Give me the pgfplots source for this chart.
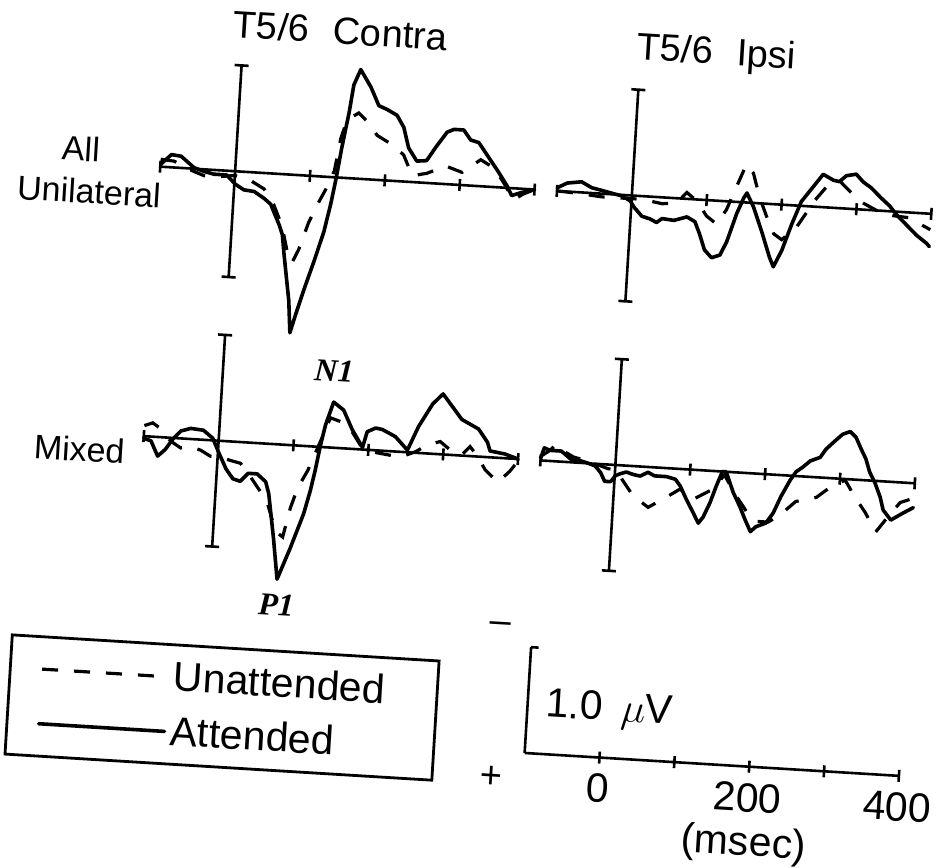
\documentclass[border=0pt]{standalone}
\usepackage{pgfplots}
\pgfplotsset{compat=1.18}
\usepackage{fontspec}
\setmainfont{Liberation Sans}
\newfontfamily\seriffont{Liberation Serif}
\newcommand\fs[1]{\fontsize{#1}{#1}\selectfont}

\pgfplotsset{
  panel/.style={scale only axis, width=187.5pt, height=159pt,
    xmin=-100, xmax=400, ymin=-1.3, ymax=1.7, y dir=reverse,
    hide axis, clip=false, anchor=north west},
  att/.style={black, line width=1.8pt, line join=round, line cap=round},
  unatt/.style={black, line width=1.6pt, dash pattern=on 8pt off 8pt},
  refline/.style={black, line width=1.3pt, forget plot},
}
\newcommand\panelframe{%
  \addplot[refline] coordinates {(-100,0) (400,0)};
  \addplot[refline] coordinates {(0,-1) (0,1)};
  \addplot[refline, only marks, mark=-, mark size=3.5pt] coordinates {(0,-1) (0,1)};
  \addplot[refline, only marks, mark=|, mark size=3pt] coordinates {(-100,0) (100,0) (200,0) (300,0) (400,0)};
}

\begin{document}
\begin{tikzpicture}
\useasboundingbox (0pt,0pt) rectangle (469pt,434pt);
\begin{scope}[transform canvas={rotate around={-3.5:(234.5pt,217pt)}}]

% ---------- All Unilateral, contralateral ----------
\begin{axis}[panel, at={(72.25pt,409.9pt)}]
\panelframe
\addplot[unatt] table {
t v
-100 -0.07
-82 -0.06
-61 0.01
-41 0.06
-21 0.06
0 0.04
19 0.07
40 0.15
54 0.29
67 0.49
77 0.76
83 0.83
91 0.70
102 0.44
114 0.24
124 0.09
132 -0.06
138 -0.37
145 -0.55
160 -0.62
174 -0.53
186 -0.42
207 -0.34
223 -0.25
236 -0.06
255 -0.09
280 -0.17
302 -0.12
326 -0.25
344 -0.18
358 -0.05
373 0.11
385 0.05
400 0.00
};
\addplot[att] table {
t v
-100 -0.02
-86 -0.12
-73 -0.11
-55 -0.01
-41 0.02
-28 0.04
-11 0.04
1 0.12
13 0.17
27 0.18
41 0.24
50 0.29
63 0.48
68 0.57
72 0.76
82 1.19
86 1.49
92 1.32
101 1.08
112 0.81
123 0.52
130 0.25
135 0.01
140 -0.28
147 -0.62
151 -0.88
159 -1.03
174 -0.87
186 -0.70
197 -0.67
211 -0.62
221 -0.51
229 -0.32
241 -0.20
254 -0.21
265 -0.34
279 -0.49
288 -0.52
301 -0.52
311 -0.43
322 -0.41
336 -0.28
351 -0.14
363 -0.02
370 0.07
381 0.04
400 0.00
};
\node[font=\fs{19}] at (axis cs:128.7,-1.387) {T5/6\hspace{12pt}Contra};
\node[font=\fs{17}] at (axis cs:-207,-0.123) {All};
\node[font=\fs{17}] at (axis cs:-192.7,0.274) {Unilateral};
\end{axis}

% ---------- All Unilateral, ipsilateral ----------
\begin{axis}[panel, at={(271pt,409.9pt)}]
\panelframe
\addplot[unatt] table {
t v
-100 0.00
-73 0.01
-40 0.03
-13 0.03
14 0.03
41 0.06
60 0.045
73 -0.06
87 0.015
101 0.15
115 0.22
127 0.08
139 -0.15
150 -0.36
160 -0.28
170 -0.06
181 0.12
192 0.28
203 0.33
222 0.20
244 -0.06
258 -0.19
275 -0.26
289 -0.17
306 -0.07
327 0.00
350 0.04
371 0.05
388 0.11
400 0.15
};
\addplot[att] table {
t v
-100 -0.03
-87 -0.08
-68 -0.10
-54 -0.05
-40 -0.03
-27 -0.01
-13 0.01
-2 0.05
4 0.11
15 0.19
26 0.21
35 0.24
42 0.20
58 0.21
75 0.17
86 0.21
93 0.32
101 0.47
111 0.54
122 0.51
130 0.38
141 0.11
149 -0.04
153 -0.09
163 0.04
176 0.27
188 0.50
194 0.59
204 0.43
215 0.18
226 -0.04
236 -0.14
245 -0.23
253 -0.31
267 -0.26
275 -0.25
284 -0.31
297 -0.33
307 -0.26
318 -0.21
332 -0.12
344 -0.05
354 0.03
368 0.12
382 0.21
396 0.28
400 0.31
};
\node[font=\fs{19}] at (axis cs:101,-1.377) {T5/6\hspace{12pt}Ipsi};
\end{axis}

% ---------- Mixed, contralateral ----------
\begin{axis}[panel, at={(72.25pt,274.9pt)},
  legend style={draw=black, line width=1.4pt, fill=none,
    at={(-0.3213,-0.078)}, anchor=north west,
    inner xsep=15pt, inner ysep=6pt, font=\fs{20.5}, row sep=7pt},
  legend cell align=left,
  legend image code/.code={\draw[#1] (0pt,0pt) -- (63pt,0pt);}]
\panelframe
\addplot[unatt] table {
t v
-100 -0.10
-89 -0.13
-78 -0.08
-64 0.03
-50 0.09
-37 0.07
-23 0.10
-10 0.15
1 0.15
18 0.18
31 0.20
43 0.30
57 0.43
69 0.54
83 0.82
93 0.87
101 0.59
109 0.40
121 0.23
136 -0.06
147 -0.28
161 -0.25
175 -0.18
189 -0.04
209 0.02
243 0.05
263 -0.01
278 -0.08
295 -0.12
312 -0.03
325 -0.01
335 -0.09
345 -0.01
357 0.12
375 0.23
390 0.12
400 0.02
};
\addlegendentry{Unattended\rule{9pt}{0pt}}
\addplot[att] table {
t v
-100 0.02
-90 0.04
-80 0.18
-70 0.11
-61 0.01
-51 -0.07
-38 -0.10
-21 -0.09
-8 -0.02
1 0.11
12 0.26
22 0.35
32 0.37
42 0.29
54 0.29
66 0.36
71 0.47
81 0.89
89 1.27
104 0.97
119 0.64
126 0.42
131 0.22
136 -0.02
141 -0.21
150 -0.43
164 -0.36
177 -0.18
192 -0.02
197 -0.17
208 -0.21
217 -0.20
235 -0.14
252 -0.02
265 -0.25
282 -0.47
295 -0.57
322 -0.34
345 -0.26
358 -0.14
362 -0.06
382 -0.04
400 0.00
};
\addlegendentry{Attended}
\node[font=\fs{17}] at (axis cs:-184.7,0.16) {Mixed};
\node[font=\fs{16}\seriffont\bfseries\itshape] at (axis cs:148,-0.726) {N1};
\node[font=\fs{16}\seriffont\bfseries\itshape] at (axis cs:90,1.514) {P1};
\end{axis}

% ---------- Mixed, ipsilateral ----------
\begin{axis}[panel, at={(271pt,274.9pt)}]
\panelframe
\addplot[unatt] table {
t v
-100 -0.04
-90 -0.09
-80 -0.16
-70 -0.10
-56 -0.05
-36 -0.02
-23 0.01
-9 0.04
0 0.04
12 0.15
26 0.28
47 0.38
69 0.28
88 0.19
106 0.28
132 0.17
146 0.03
162 0.21
178 0.36
192 0.45
208 0.45
224 0.37
243 0.24
270 0.19
287 0.09
307 0.01
321 0.16
336 0.30
352 0.48
364 0.36
382 0.19
400 0.14
};
\addplot[att] table {
t v
-100 -0.02
-96 -0.12
-88 -0.10
-73 -0.10
-60 -0.03
-47 -0.02
-36 0.00
-27 0.02
-19 0.08
-13 0.16
-5 0.16
1 0.10
7 0.08
15 0.06
25 0.08
34 0.09
44 0.05
53 0.08
69 0.08
81 0.10
88 0.16
97 0.28
107 0.40
115 0.50
121 0.44
129 0.30
136 0.14
143 0.00
148 0.00
159 0.19
169 0.32
177 0.44
185 0.55
192 0.50
205 0.46
214 0.36
223 0.20
234 0.04
241 -0.04
250 -0.09
259 -0.15
272 -0.19
279 -0.27
290 -0.35
300 -0.42
310 -0.45
318 -0.40
326 -0.29
333 -0.20
339 -0.08
347 0.02
355 0.15
360 0.27
371 0.36
386 0.29
400 0.23
};
\end{axis}

% ---------- calibration bar ----------
\begin{axis}[scale only axis, width=187.5pt, height=53pt,
  xmin=-100, xmax=400, ymin=0, ymax=1,
  axis x line=bottom, axis y line=left,
  axis line style={-, black, line width=1.3pt},
  ytick=\empty, xtick={0,100,200,300,400}, xticklabels={0,,200,,400},
  xtick align=center, major tick length=6pt,
  tick style={black, line width=1.3pt},
  xticklabel style={font=\fs{20.5}, anchor=center, yshift=-12.5pt},
  clip=false, anchor=north west, at={(272pt,112.5pt)}]
\addplot[refline] coordinates {(-100,1) (-90,1)};
\node[font=\fs{20.5}] at (axis cs:9,0.45) {1.0\hspace{0.45em}$\mu$V};
\node[font=\fs{19}] at (axis cs:-142.7,1.17) {\textendash};
\node[font=\fs{19}] at (axis cs:-142.7,-0.25) {+};
\node[font=\fs{20.5}] at (axis cs:198.7,-0.74) {(msec)};
\end{axis}

\end{scope}
\end{tikzpicture}
\end{document}
